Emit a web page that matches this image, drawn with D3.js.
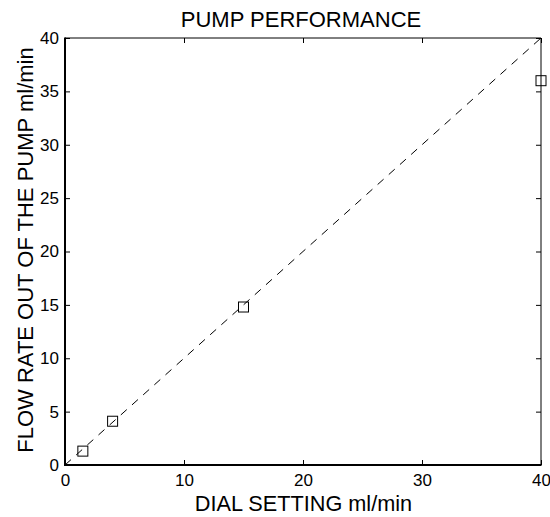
<!DOCTYPE html>
<html><head><meta charset="utf-8">
<script src="https://cdn.jsdelivr.net/npm/d3@7"></script>
<style>body{margin:0;background:#fff}svg{display:block;font-family:"Liberation Sans",Arial,sans-serif}</style>
</head><body>
<svg id="c" width="550" height="517"></svg>
<script>
const dialSetting = [1.5, 4, 15, 40];
const flowRate = [1.3, 4.1, 14.8, 36];
const idealLine = [[0, 0], [40, 40]];
const xTicks = [0, 10, 20, 30, 40];
const yTicks = [0, 5, 10, 15, 20, 25, 30, 35, 40];
const title = "PUMP PERFORMANCE";
const xLabel = "DIAL SETTING ml/min";
const yLabel = "FLOW RATE OUT OF THE PUMP ml/min";

const svg = d3.select("#c");
const L = 65, R = 541, T = 38, B = 465;
const x = d3.scaleLinear().domain([0, 40]).range([L, R]);
const y = d3.scaleLinear().domain([0, 40]).range([B, T]);

// dashed ideal line
svg.append("path")
  .attr("d", d3.line().x(d => x(d[0])).y(d => y(d[1]))(idealLine))
  .attr("fill", "none").attr("stroke", "#000").attr("stroke-width", 1)
  .attr("stroke-dasharray", "8,7");

// axes with inward ticks
const fs = 17;
const ax = (g, axis) => { g.call(axis); g.select(".domain").remove(); g.selectAll("text").attr("font-size", fs).attr("font-family", "Liberation Sans, Arial, sans-serif").attr("fill", "#000"); };
svg.append("g").attr("transform", `translate(0,${B})`).call(g => ax(g, d3.axisBottom(x).tickValues(xTicks).tickSize(-5).tickPadding(9).tickFormat(d3.format("d"))));
svg.append("g").attr("transform", `translate(0,${T})`).call(g => ax(g, d3.axisTop(x).tickValues(xTicks).tickSize(-5).tickFormat("")));
svg.append("g").attr("transform", `translate(${L},0)`).call(g => ax(g, d3.axisLeft(y).tickValues(yTicks).tickSize(-5).tickPadding(6).tickFormat(d3.format("d"))));
svg.append("g").attr("transform", `translate(${R},0)`).call(g => ax(g, d3.axisRight(y).tickValues(yTicks).tickSize(-5).tickFormat("")));

// frame: top/right thin, left/bottom thicker
svg.append("line").attr("x1", L).attr("x2", R).attr("y1", T).attr("y2", T).attr("stroke", "#000").attr("stroke-width", 1);
svg.append("line").attr("x1", R).attr("x2", R).attr("y1", T).attr("y2", B).attr("stroke", "#000").attr("stroke-width", 1);
svg.append("line").attr("x1", L).attr("x2", L).attr("y1", T - 0.5).attr("y2", B + 1).attr("stroke", "#000").attr("stroke-width", 2);
svg.append("line").attr("x1", L - 1).attr("x2", R + 0.5).attr("y1", B).attr("y2", B).attr("stroke", "#000").attr("stroke-width", 2);

// markers
svg.selectAll("rect.pt").data(dialSetting).enter().append("rect").attr("class", "pt")
  .attr("x", (d) => x(d) - 5).attr("y", (d, i) => y(flowRate[i]) - 5)
  .attr("width", 10).attr("height", 10)
  .attr("fill", "none").attr("stroke", "#000").attr("stroke-width", 1);

// texts
svg.append("text").attr("x", 301).attr("y", 26.5).attr("text-anchor", "middle")
  .attr("font-size", 22).text(title);
svg.append("text").attr("x", 303.5).attr("y", 511).attr("text-anchor", "middle")
  .attr("font-size", 21.7).text(xLabel);
svg.append("text").attr("transform", `translate(32.5,250) rotate(-90)`).attr("text-anchor", "middle")
  .attr("font-size", 22).text(yLabel);
</script>
</body></html>
